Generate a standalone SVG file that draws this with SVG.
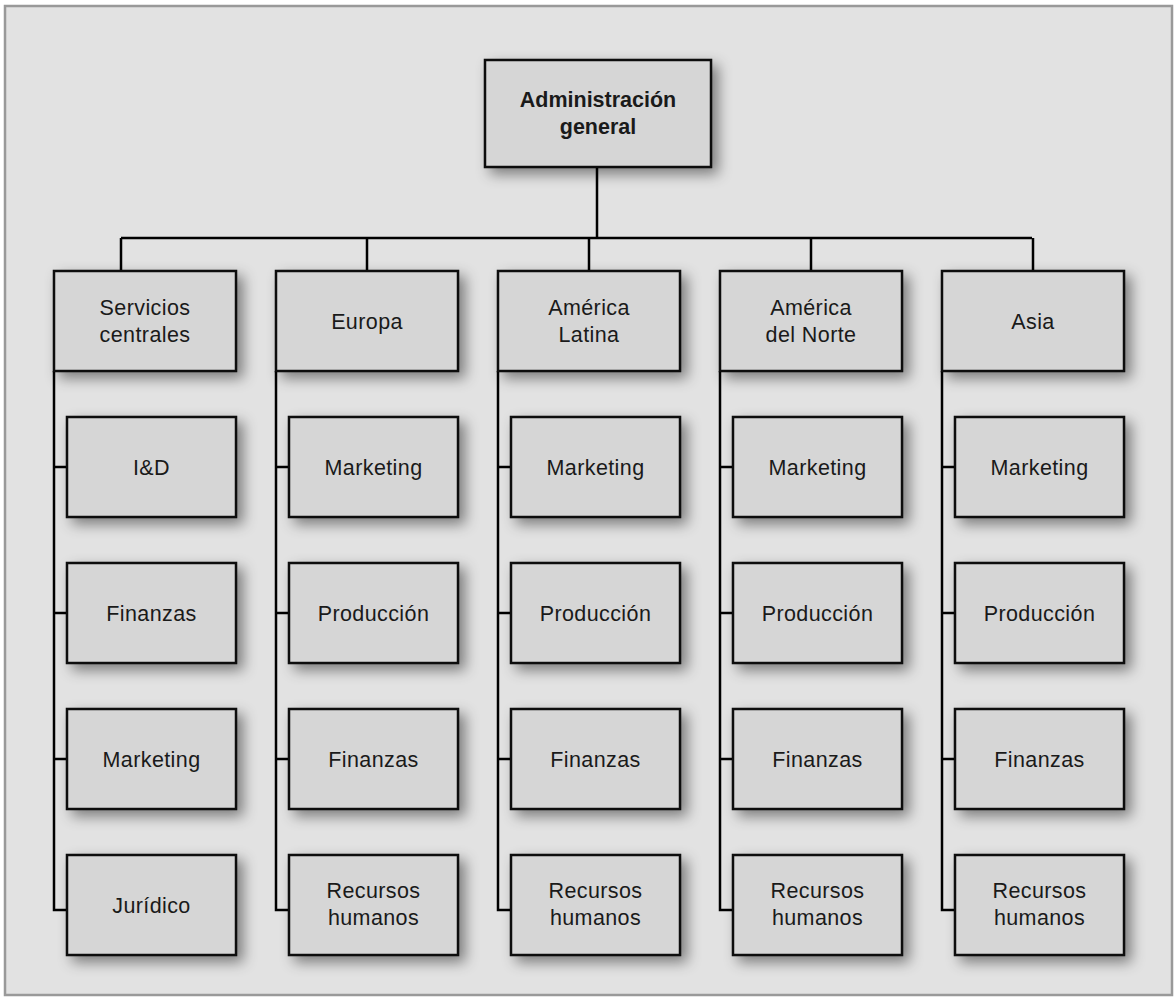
<svg xmlns="http://www.w3.org/2000/svg" width="1176" height="997" viewBox="0 0 1176 997">
<defs>
<filter id="sh" x="-20%" y="-20%" width="160%" height="160%">
<feDropShadow dx="6" dy="6" stdDeviation="7" flood-color="#000" flood-opacity="0.45"/>
</filter>
<style>
.box{fill:#d6d6d6;stroke:#111;stroke-width:2.5;filter:url(#sh)}
.t{font-family:"Liberation Sans",Arial,sans-serif;font-size:21.5px;letter-spacing:0.4px;fill:#1a1a1a;text-anchor:middle}
.b{font-weight:bold;letter-spacing:0}
.c{fill:none;stroke:#000;stroke-width:2.5}
</style>
</defs>
<rect x="5" y="6" width="1167" height="989" fill="#e2e2e2" stroke="#999" stroke-width="2.5"/>
<g id="connectors">
<path class="c" d="M597 167V238M121 238H1032M121 238V271M367 238V271M589 238V271M811 238V271M1033 238V271"/>
<path class="c" d="M54 371V910H67M54 467H67M54 613H67M54 759H67"/>
<path class="c" d="M276 371V910H289M276 467H289M276 613H289M276 759H289"/>
<path class="c" d="M498 371V910H511M498 467H511M498 613H511M498 759H511"/>
<path class="c" d="M720 371V910H733M720 467H733M720 613H733M720 759H733"/>
<path class="c" d="M942 371V910H955M942 467H955M942 613H955M942 759H955"/>
</g>
<g id="n-top"><rect class="box" x="485" y="60" width="226" height="107"/><text class="t b" x="598" y="107">Administración</text><text class="t b" x="598" y="134">general</text></g>

<g id="n-servicios"><rect class="box" x="54" y="271" width="182" height="100"/><text class="t" x="145" y="315">Servicios</text><text class="t" x="145" y="342">centrales</text></g>
<g id="n-id"><rect class="box" x="67" y="417" width="169" height="100"/><text class="t" x="151.5" y="475">I&amp;D</text></g>
<g id="n-s-fin"><rect class="box" x="67" y="563" width="169" height="100"/><text class="t" x="151.5" y="621">Finanzas</text></g>
<g id="n-s-mkt"><rect class="box" x="67" y="709" width="169" height="100"/><text class="t" x="151.5" y="767">Marketing</text></g>
<g id="n-juridico"><rect class="box" x="67" y="855" width="169" height="100"/><text class="t" x="151.5" y="913">Jurídico</text></g>

<g id="n-europa"><rect class="box" x="276" y="271" width="182" height="100"/><text class="t" x="367" y="329">Europa</text></g>
<g id="n-e-mkt"><rect class="box" x="289" y="417" width="169" height="100"/><text class="t" x="373.5" y="475">Marketing</text></g>
<g id="n-e-prod"><rect class="box" x="289" y="563" width="169" height="100"/><text class="t" x="373.5" y="621">Producción</text></g>
<g id="n-e-fin"><rect class="box" x="289" y="709" width="169" height="100"/><text class="t" x="373.5" y="767">Finanzas</text></g>
<g id="n-e-rh"><rect class="box" x="289" y="855" width="169" height="100"/><text class="t" x="373.5" y="898">Recursos</text><text class="t" x="373.5" y="925">humanos</text></g>

<g id="n-latam"><rect class="box" x="498" y="271" width="182" height="100"/><text class="t" x="589" y="315">América</text><text class="t" x="589" y="342">Latina</text></g>
<g id="n-l-mkt"><rect class="box" x="511" y="417" width="169" height="100"/><text class="t" x="595.5" y="475">Marketing</text></g>
<g id="n-l-prod"><rect class="box" x="511" y="563" width="169" height="100"/><text class="t" x="595.5" y="621">Producción</text></g>
<g id="n-l-fin"><rect class="box" x="511" y="709" width="169" height="100"/><text class="t" x="595.5" y="767">Finanzas</text></g>
<g id="n-l-rh"><rect class="box" x="511" y="855" width="169" height="100"/><text class="t" x="595.5" y="898">Recursos</text><text class="t" x="595.5" y="925">humanos</text></g>

<g id="n-norte"><rect class="box" x="720" y="271" width="182" height="100"/><text class="t" x="811" y="315">América</text><text class="t" x="811" y="342">del Norte</text></g>
<g id="n-n-mkt"><rect class="box" x="733" y="417" width="169" height="100"/><text class="t" x="817.5" y="475">Marketing</text></g>
<g id="n-n-prod"><rect class="box" x="733" y="563" width="169" height="100"/><text class="t" x="817.5" y="621">Producción</text></g>
<g id="n-n-fin"><rect class="box" x="733" y="709" width="169" height="100"/><text class="t" x="817.5" y="767">Finanzas</text></g>
<g id="n-n-rh"><rect class="box" x="733" y="855" width="169" height="100"/><text class="t" x="817.5" y="898">Recursos</text><text class="t" x="817.5" y="925">humanos</text></g>

<g id="n-asia"><rect class="box" x="942" y="271" width="182" height="100"/><text class="t" x="1033" y="329">Asia</text></g>
<g id="n-a-mkt"><rect class="box" x="955" y="417" width="169" height="100"/><text class="t" x="1039.5" y="475">Marketing</text></g>
<g id="n-a-prod"><rect class="box" x="955" y="563" width="169" height="100"/><text class="t" x="1039.5" y="621">Producción</text></g>
<g id="n-a-fin"><rect class="box" x="955" y="709" width="169" height="100"/><text class="t" x="1039.5" y="767">Finanzas</text></g>
<g id="n-a-rh"><rect class="box" x="955" y="855" width="169" height="100"/><text class="t" x="1039.5" y="898">Recursos</text><text class="t" x="1039.5" y="925">humanos</text></g>
</svg>
